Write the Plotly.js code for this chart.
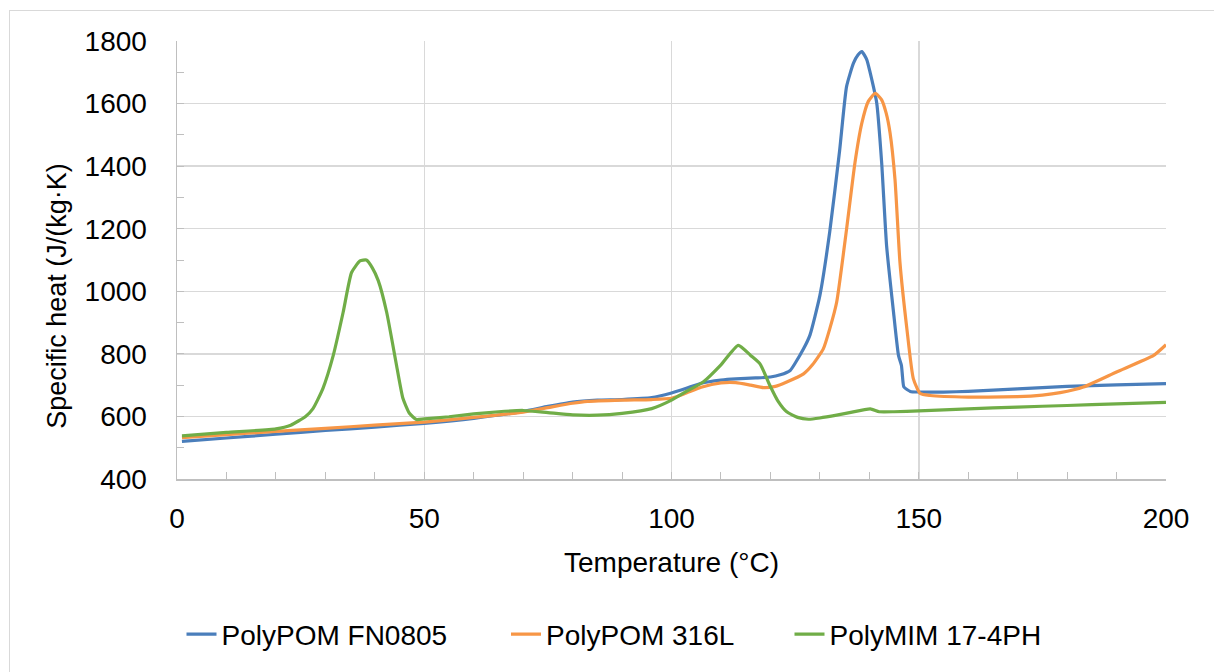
<!DOCTYPE html>
<html>
<head>
<meta charset="utf-8">
<script src="https://cdn.plot.ly/plotly-3.0.1.min.js"></script>
<style>
  html, body { margin: 0; padding: 0; background: #fff; overflow: hidden; }
  #chart { width: 1214px; height: 672px; }
  #frame { position: absolute; left: 9px; top: 10px; width: 1300px; height: 800px;
           border: 1px solid #d9d9d9; pointer-events: none; }
</style>
</head>
<body>
<div id="chart"></div>
<div id="frame"></div>
<script>
// ---- Data ----
const seriesNames = ["PolyPOM FN0805", "PolyPOM 316L", "PolyMIM 17-4PH"];

const fn0805T = [1, 10, 20, 30, 40, 50, 60, 70, 75, 80, 85, 90, 96, 100, 103, 106, 110, 113, 117, 120, 122, 124, 125, 126.7, 128, 130, 132, 134, 135.4, 136.8, 137.7, 138.5, 139.5, 140.2, 141.5, 142.5, 143.5, 144.9, 145.9, 146.5, 146.7, 147, 148.3, 150, 155, 160, 170, 180, 190, 200];
const fn0805Cp = [520, 531, 543, 555, 566, 578, 594, 616, 632, 646, 652, 654, 660, 675, 690, 706, 716, 720, 723, 726, 733, 747, 770, 816, 860, 986, 1190, 1450, 1654, 1729, 1755, 1766, 1740, 1697, 1602, 1411, 1145, 933, 795, 763, 730, 694, 680, 678, 678, 680, 688, 696, 701, 705];

const s316LT = [1, 10, 20, 30, 40, 50, 60, 70, 75, 80, 83, 90, 96, 100, 103, 106, 110, 113, 116, 118.6, 121, 123.3, 126.7, 128.5, 130.7, 132, 133.4, 135.4, 137.1, 138.5, 139.8, 141.2, 142.5, 143.4, 144.2, 145.2, 146.2, 147.6, 148.9, 150.3, 152.3, 160, 170, 175, 178.6, 183.3, 190, 197.5, 200];
const s316LCp = [532, 542, 552, 562, 572, 582, 597, 614, 628, 642, 648, 652, 654, 658, 675, 693, 707, 708, 700, 692, 696, 710, 736, 765, 816, 880, 965, 1198, 1411, 1538, 1607, 1633, 1612, 1570, 1506, 1357, 1092, 880, 721, 673, 667, 662, 663, 668, 676, 694, 742, 795, 829];

const ph174T = [1, 10, 20, 23, 26, 27.5, 29.5, 31.6, 33.6, 35.3, 37, 38.3, 39.5, 40.7, 42.4, 44.4, 45.7, 47, 48.4, 50, 55, 60, 65, 70, 75, 80, 85, 90, 96, 100, 103, 106.4, 110, 113.5, 116, 117.9, 119.9, 121.5, 123.3, 125.5, 127.7, 130, 133.4, 136, 140.2, 142, 145, 150, 160, 170, 180, 190, 200];
const ph174Cp = [538, 549, 560, 572, 600, 625, 689, 795, 933, 1060, 1097, 1100, 1075, 1034, 933, 763, 657, 610, 590, 592, 599, 608, 615, 619, 612, 605, 604, 610, 625, 652, 680, 710, 765, 827, 795, 768, 699, 650, 615, 597, 591, 595, 604, 612, 624, 615, 615, 618, 624, 630, 635, 640, 645];

const xTickVals = [0, 50, 100, 150, 200];
const yTickVals = [400, 600, 800, 1000, 1200, 1400, 1600, 1800];

const colors = ["#4a7ebb", "#f79646", "#70ad47"];
const FONT = "Liberation Sans, Arial, sans-serif";
const legendIds = ["legend", "legend2", "legend3"];

const traces = [
  {x: fn0805T, y: fn0805Cp, name: seriesNames[0]},
  {x: s316LT, y: s316LCp, name: seriesNames[1]},
  {x: ph174T, y: ph174Cp, name: seriesNames[2]}
].map((t, i) => Object.assign(t, {
  type: "scatter", mode: "lines", legend: legendIds[i],
  line: {color: colors[i], width: 3.2, shape: "spline", smoothing: 0.5},
  hoverinfo: "skip"
}));

function legendAt(centerPx) {
  return {
    orientation: "h", x: (centerPx - 177) / 989, xanchor: "center",
    y: -0.355, yanchor: "middle",
    font: {family: FONT, size: 28, color: "#000"}, bgcolor: "rgba(0,0,0,0)",
    itemclick: false, itemdoubleclick: false
  };
}

const layout = {
  width: 1214, height: 672,
  paper_bgcolor: "#ffffff", plot_bgcolor: "#ffffff",
  margin: {l: 177, r: 48, t: 41, b: 191},
  font: {family: FONT, color: "#000", size: 27},
  showlegend: true,
  legend: legendAt(317),
  legend2: legendAt(623),
  legend3: legendAt(918),
  xaxis: {
    range: [0, 200], tickvals: xTickVals, ticktext: xTickVals.map(String),
    showgrid: true, gridcolor: "#d9d9d9", gridwidth: 1.5,
    showline: true, linecolor: "#bfbfbf", linewidth: 1.5,
    ticks: "inside", ticklen: 7, tickcolor: "#bfbfbf",
    minor: {dtick: 10, tick0: 0, ticks: "inside", ticklen: 7, tickcolor: "#bfbfbf", showgrid: false},
    zeroline: false, ticklabelstandoff: 14,
    tickfont: {family: FONT, size: 28, color: "#000"},
    title: {text: "Temperature (°C)", font: {family: FONT, size: 28, color: "#000"}, standoff: 19}
  },
  yaxis: {
    range: [400, 1800], tickvals: yTickVals, ticktext: yTickVals.map(String),
    showgrid: true, gridcolor: "#d9d9d9", gridwidth: 1.5,
    showline: true, linecolor: "#bfbfbf", linewidth: 1.5,
    ticks: "inside", ticklen: 7, tickcolor: "#bfbfbf",
    minor: {dtick: 100, tick0: 400, ticks: "inside", ticklen: 7, tickcolor: "#bfbfbf", showgrid: false},
    zeroline: false, ticklabelstandoff: 23,
    tickfont: {family: FONT, size: 28, color: "#000"}
  },
  annotations: [{
    text: "Specific heat (J/(kg·K)", textangle: -90,
    xref: "paper", yref: "paper",
    x: (57 - 177) / 989, y: (481 - 297) / 440,
    xanchor: "center", yanchor: "middle", showarrow: false,
    font: {family: FONT, size: 27, color: "#000"}
  }]
};

Plotly.newPlot("chart", traces, layout, {staticPlot: true, displayModeBar: false});
</script>
</body>
</html>
